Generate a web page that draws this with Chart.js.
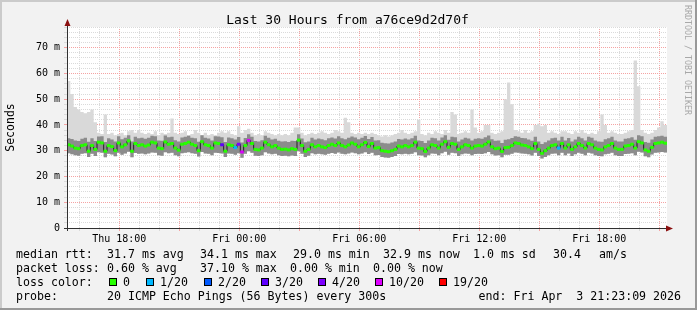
<!DOCTYPE html>
<html><head><meta charset="utf-8">
<script src="https://cdn.jsdelivr.net/npm/chart.js@4/dist/chart.umd.min.js"></script>
<style>html,body{margin:0;padding:0;background:#f2f2f2;overflow:hidden}canvas{display:block}</style>
</head><body>
<canvas id="c" width="697" height="310"></canvas>
<script>
// ---------- data (10-minute steps, starting Thu 15:23:09) ----------
const titleText = 'Last 30 Hours from a76ce9d2d70f';
const stepHours = 1 / 6;
const totalHours = 30;
const firstHourOffset = 0.6142;   // 16:00 relative to the start
const firstHour = 16;
const xTickLabels = ['Thu 18:00', 'Fri 00:00', 'Fri 06:00', 'Fri 12:00', 'Fri 18:00'];

const median = [
 32.3,31.8,31.0,30.8,32.0,32.3,29.8,32.0,30.5,33.3,33.0,29.8,32.0,31.6,30.0,33.0,31.5,32.3,33.8,29.8,32.8,32.0,32.3,31.8,32.2,33.3,33.0,31.0,30.8,33.4,32.5,
 32.8,31.0,30.2,32.5,32.8,33.3,32.5,32.0,30.0,33.5,32.3,32.0,31.0,33.0,32.8,32.3,29.8,32.3,32.0,31.2,32.5,29.5,32.0,34.0,32.8,30.5,30.3,31.0,33.3,32.3,
 31.5,32.0,31.0,30.5,30.6,30.3,30.8,30.5,34.1,32.0,29.8,30.5,32.3,31.5,32.0,31.5,31.2,32.0,32.5,32.0,33.0,32.0,31.5,32.2,33.0,32.5,31.5,32.3,33.2,31.6,
 32.8,31.0,31.2,30.0,29.8,29.6,30.0,30.5,31.8,31.5,32.0,31.5,32.0,33.3,31.0,30.8,29.7,31.0,32.3,32.0,31.0,32.5,33.5,31.3,32.8,32.5,30.5,31.5,32.3,32.0,
 31.0,31.8,32.0,31.8,32.5,33.4,31.5,30.8,31.0,29.7,31.2,31.3,32.0,33.0,32.8,32.2,32.0,31.5,30.8,32.8,30.5,29.0,30.0,31.0,32.0,32.3,31.0,32.8,31.0,32.3,
 30.5,31.5,32.8,32.0,31.0,32.8,32.3,31.0,30.5,30.3,31.5,32.0,32.8,31.0,30.5,30.5,31.8,32.0,32.5,31.0,33.5,33.0,30.3,29.8,31.3,32.8,33.0,33.3,32.9
];
const smokeMax = [
 57,52,47,46,45,44.5,45,46,41,37,36.5,44,36.5,37,36,36.5,37,36,37.5,38,37,38,37,36.5,37,36.5,37.5,36,37,36.5,37,
 42.5,37,36.5,37,37.5,36,36.5,38,37,36,37,36,36.5,36,37,37.5,37,37.5,36.5,36,39.5,37,38,38.5,37,36,36.5,36,37.5,37,
 36.5,36,36.5,36,36.5,36,37,39,39,37,36,36.5,37,36.5,37,37.5,37,36.5,37,38,37.5,37,42.8,41,37,36.5,37,36.5,37,36.5,
 37,36.5,36,35.5,36,35.5,36,36.5,37,38,37,36.5,37,37.5,42,36.5,36,37,36.5,37.5,37,36.5,38,37,45,44,36.5,37,37.5,37,
 46,39,37,37.5,40,40,37,36.5,37,37.5,50,56.5,48,38,37.5,37,38,37,37.5,40,40.5,39.5,40,37,37.5,37,36.5,37.5,37.5,37,
 36.5,37.5,37,38,37,36.5,37,36.5,37.5,44,40,37,37.5,37,36.5,36.5,37,37.5,38,65,55,38,37,36.5,37,38,39,41.4,40
];
const smokeUp = [
 34.8,34.5,34.0,33.8,34.6,35.0,33.5,34.8,33.8,35.5,35.6,33.4,34.8,34.3,33.6,35.6,34.4,35.0,36.0,33.6,35.4,34.8,35.0,34.6,35.0,35.8,35.6,34.0,33.9,35.9,35.2,
 35.4,34.1,33.6,35.1,35.4,35.8,35.0,34.8,33.5,36.0,35.0,34.7,34.0,35.6,35.5,35.2,33.4,35.1,34.8,34.3,35.3,33.2,34.9,36.4,35.4,33.8,33.6,34.1,35.8,35.0,
 34.3,34.6,33.9,33.6,33.7,33.4,33.9,33.8,36.4,34.7,33.3,33.6,35.0,34.3,34.7,34.4,34.1,34.8,35.1,34.7,35.6,34.8,34.4,35.0,35.5,35.1,34.4,35.0,35.7,34.5,
 35.3,34.0,34.1,33.1,32.9,32.8,33.2,33.6,34.5,34.3,34.7,34.3,34.8,35.8,34.0,33.8,33.0,34.0,35.0,34.8,34.0,35.1,36.0,34.2,35.4,35.2,33.6,34.3,35.0,34.7,
 34.0,34.6,34.8,34.6,35.2,35.9,34.4,33.9,34.0,33.0,34.2,34.4,34.9,35.6,35.4,34.9,34.8,34.3,33.9,35.4,33.6,32.6,33.3,34.0,34.8,35.0,34.0,35.4,34.0,34.9,
 33.6,34.3,35.4,34.8,34.0,35.4,35.0,34.0,33.6,33.5,34.4,34.8,35.4,34.0,33.6,33.6,34.6,34.8,35.2,34.2,36.0,35.6,33.4,33.1,34.3,35.4,35.6,35.8,35.4
];
const smokeMin = [
 29.0,28.6,28.2,28.0,28.8,29.0,27.6,28.8,27.9,29.4,29.2,27.5,28.8,28.5,27.8,29.2,28.4,28.9,29.6,27.5,29.1,28.8,28.9,28.6,28.9,29.3,29.2,28.2,28.0,29.4,29.0,
 29.2,28.2,27.8,29.0,29.2,29.4,29.0,28.8,27.7,29.5,28.9,28.8,28.2,29.2,29.1,28.9,27.6,28.9,28.8,28.4,29.0,27.3,28.8,29.8,29.2,28.0,27.9,28.2,29.4,28.9,
 28.6,28.8,28.2,27.9,28.0,27.8,28.1,27.9,29.8,28.8,27.6,28.0,29.0,28.6,28.8,28.6,28.4,28.8,29.1,28.8,29.3,28.8,28.6,28.9,29.3,29.0,28.6,28.9,29.4,28.7,
 29.2,28.2,28.3,27.6,27.4,27.3,27.6,27.9,28.7,28.6,28.8,28.6,28.8,29.4,28.2,28.1,27.5,28.2,28.9,28.8,28.2,29.0,29.6,28.4,29.2,29.0,27.9,28.6,28.9,28.8,
 28.2,28.7,28.8,28.7,29.0,29.5,28.6,28.1,28.2,27.5,28.4,28.4,28.8,29.3,29.2,28.9,28.8,28.6,28.1,29.2,27.9,27.0,27.6,28.2,28.8,28.9,28.2,29.2,28.2,28.9,
 27.9,28.6,29.2,28.8,28.2,29.2,28.9,28.2,27.9,27.8,28.6,28.8,29.2,28.2,27.9,27.9,28.7,28.8,29.0,28.2,29.6,29.3,27.8,27.5,28.5,29.2,29.3,29.5,29.3
];
// lost pings (out of 20) in the few steps that had loss
const lossSteps = [46, 50, 51, 52, 54, 147];
const lossCounts = [3, 1, 4, 10, 10, 1];
// loss colour classes
const lossLevels = [0, 1, 2, 3, 4, 10, 19];
const lossLabels = ['0', '1/20', '2/20', '3/20', '4/20', '10/20', '19/20'];
const lossColors = ['#26ff00', '#00b8ff', '#0059ff', '#5e00ff', '#7e00ff', '#dd00ff', '#ff0000'];
// legend text
const rttLabel = 'median rtt:';
const rttStats = ['31.7 ms avg', '34.1 ms max', '29.0 ms min', '32.9 ms now', '1.0 ms sd', '30.4', 'am/s'];
const pktLabel = 'packet loss:';
const pktStats = ['0.60 % avg', '37.10 % max', '0.00 % min', '0.00 % now'];
const colorLabel = 'loss color:';
const probeLabel = 'probe:';
const probeText = '20 ICMP Echo Pings (56 Bytes) every 300s';
const endText = 'end: Fri Apr  3 21:23:09 2026';
const watermark = 'RRDTOOL / TOBI OETIKER';

// ---------- layout ----------
const rttX = [107, 200, 293, 383, 473, 553, 599];
const pktX = [107, 200, 290, 373];
const boxX = [109, 146, 204, 261, 318, 375, 439];
const MONO = '"DejaVu Sans Mono", "Liberation Mono", monospace';

const loss = median.map(() => 0);
lossSteps.forEach((s, i) => { loss[s] = lossCounts[i]; });
function lossColor(n) {
  let c = lossColors[0];
  for (let i = 0; i < lossLevels.length; i++) if (n >= lossLevels[i]) c = lossColors[i];
  return c;
}
const toPts = arr => arr.map((v, i) => ({ x: i * stepHours, y: v }))
  .concat([{ x: arr.length * stepHours, y: arr[arr.length - 1] }]);
const toMidPts = arr => arr.map((v, i) => ({ x: (i + 0.5) * stepHours, y: v }));
const hourTicks = [];
for (let k = 0; firstHourOffset + k < totalHours; k++) hourTicks.push(firstHourOffset + k);

const MAJOR = '#f5a3a3';
const MINOR = '#dadada';

const deco = {
  id: 'deco',
  beforeDraw(chart) {
    const ctx = chart.ctx, a = chart.chartArea;
    ctx.save();
    ctx.fillStyle = '#f2f2f2'; ctx.fillRect(0, 0, 697, 310);
    ctx.fillStyle = '#cbcbcb'; ctx.fillRect(0, 0, 697, 2); ctx.fillRect(0, 0, 2, 310);
    ctx.fillStyle = '#999999'; ctx.fillRect(0, 308, 697, 2); ctx.fillRect(695, 0, 2, 310);
    ctx.fillStyle = '#ffffff'; ctx.fillRect(a.left, a.top, a.right - a.left, a.bottom - a.top);
    ctx.restore();
  },
  afterDraw(chart) {
    const ctx = chart.ctx, a = chart.chartArea;
    ctx.save();
    // axes
    ctx.strokeStyle = '#303030'; ctx.lineWidth = 1;
    ctx.beginPath();
    ctx.moveTo(a.left - 3, a.bottom + 0.5); ctx.lineTo(a.right + 1, a.bottom + 0.5);
    ctx.moveTo(a.left + 0.5, a.bottom + 3); ctx.lineTo(a.left + 0.5, 22);
    ctx.stroke();
    ctx.fillStyle = '#8b1010';
    ctx.beginPath(); ctx.moveTo(a.left + 0.5, 19); ctx.lineTo(a.left - 2.5, 26); ctx.lineTo(a.left + 3.5, 26); ctx.closePath(); ctx.fill();
    ctx.beginPath(); ctx.moveTo(a.right + 6, a.bottom + 0.5); ctx.lineTo(a.right - 1, a.bottom - 2.5); ctx.lineTo(a.right - 1, a.bottom + 3.5); ctx.closePath(); ctx.fill();
    // title
    ctx.fillStyle = '#000';
    ctx.font = '13px ' + MONO; ctx.textAlign = 'center'; ctx.textBaseline = 'alphabetic';
    ctx.fillText(titleText, 347.5, 24);
    // y title
    ctx.save(); ctx.translate(11, 127.5); ctx.rotate(-Math.PI / 2);
    ctx.font = '11.5px ' + MONO; ctx.textAlign = 'center'; ctx.textBaseline = 'middle';
    ctx.fillText('Seconds', 0, 0); ctx.restore();
    // watermark
    ctx.save(); ctx.translate(687, 5); ctx.rotate(Math.PI / 2);
    ctx.font = '8.3px ' + MONO; ctx.fillStyle = '#a8a8a8'; ctx.textAlign = 'left'; ctx.textBaseline = 'middle';
    ctx.fillText(watermark, 0, 0); ctx.restore();
    // legend
    ctx.font = '11.6px ' + MONO; ctx.textAlign = 'left'; ctx.textBaseline = 'alphabetic'; ctx.fillStyle = '#000';
    ctx.fillText(rttLabel, 16, 258);
    rttStats.forEach((t, i) => ctx.fillText(t, rttX[i], 258));
    ctx.fillText(pktLabel, 16, 272);
    pktStats.forEach((t, i) => ctx.fillText(t, pktX[i], 272));
    ctx.fillText(colorLabel, 16, 286);
    lossLabels.forEach((t, i) => {
      ctx.fillStyle = '#000'; ctx.fillRect(boxX[i], 278, 8, 8);
      ctx.fillStyle = lossColors[i]; ctx.fillRect(boxX[i] + 1, 279, 6, 6);
      ctx.fillStyle = '#000'; ctx.fillText(t, boxX[i] + 14, 286);
    });
    ctx.fillText(probeLabel, 16, 300);
    ctx.fillText(probeText, 107, 300);
    ctx.textAlign = 'right'; ctx.fillText(endText, 681, 300);
    ctx.restore();
  }
};

const lineBase = { stepped: true, pointRadius: 0, pointHoverRadius: 0, tension: 0 };
new Chart(document.getElementById('c'), {
  type: 'line',
  data: {
    datasets: [
      { data: toMidPts(median), showLine: false, fill: false, pointStyle: 'line', pointRadius: 1.8, pointHoverRadius: 1.8,
        pointBorderWidth: 3, pointBorderColor: c => lossColor(loss[c.dataIndex] || 0), pointBackgroundColor: 'rgba(0,0,0,0)' },
      Object.assign({ data: toPts(median), borderColor: '#202020', borderWidth: 1, fill: false }, lineBase),
      Object.assign({ data: toPts(smokeUp), borderWidth: 0, borderColor: 'rgba(0,0,0,0)', fill: { target: 3 }, backgroundColor: '#8c8c8c' }, lineBase),
      Object.assign({ data: toPts(smokeMin), borderWidth: 0, borderColor: 'rgba(0,0,0,0)', fill: false }, lineBase),
      Object.assign({ data: toPts(smokeMax), borderWidth: 0, borderColor: 'rgba(0,0,0,0)', fill: { target: 3 }, backgroundColor: '#d9d9d9' }, lineBase)
    ]
  },
  options: {
    responsive: false, animation: false, devicePixelRatio: 1,
    layout: { padding: { left: 0, right: 30, top: 27, bottom: 62 } },
    plugins: { legend: { display: false }, tooltip: { enabled: false }, title: { display: false } },
    events: [],
    scales: {
      x: {
        type: 'linear', min: 0, max: totalHours,
        afterBuildTicks: s => { s.ticks = hourTicks.map(v => ({ value: v })); },
        afterFit: s => { s.height = 20; },
        ticks: {
          autoSkip: false, maxRotation: 0, minRotation: 0, padding: 2, color: '#000',
          font: { family: MONO, size: 10 },
          callback: (v, i) => ((i - 2) % 6 === 0 ? xTickLabels[(i - 2) / 6] : '')
        },
        grid: {
          color: c => ((c.index + firstHour) % 3 === 0 ? MAJOR : MINOR),
          tickColor: c => ((c.index + firstHour) % 3 === 0 ? MAJOR : MINOR),
          lineWidth: 1, tickLength: 3
        },
        border: { display: false, dash: [1, 1] }
      },
      y: {
        min: 0, max: 78,
        afterFit: s => { s.width = 67; },
        ticks: {
          stepSize: 2, autoSkip: false, padding: 4, color: '#000',
          font: { family: MONO, size: 10 },
          callback: v => (v % 10 === 0 ? (v === 0 ? '0' : v + ' m') : '')
        },
        grid: {
          color: c => (c.tick && c.tick.value % 10 === 0 && c.tick.value > 0 ? MAJOR : MINOR),
          tickColor: c => (c.tick && c.tick.value % 10 === 0 && c.tick.value > 0 ? MAJOR : MINOR),
          lineWidth: 1, tickLength: 3
        },
        border: { display: false, dash: [1, 1] }
      }
    }
  },
  plugins: [deco]
});
</script>
</body></html>
